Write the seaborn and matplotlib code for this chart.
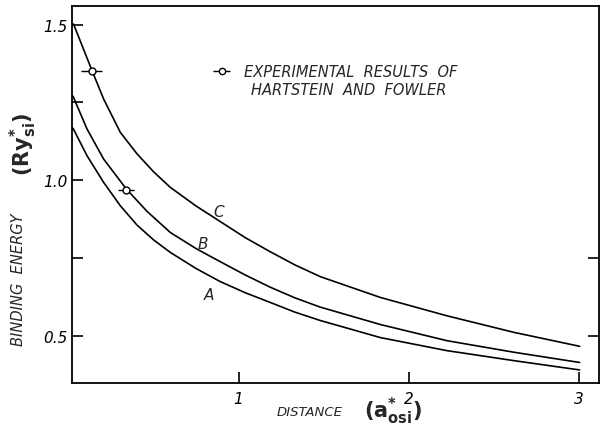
import matplotlib
matplotlib.use("Agg")
import matplotlib.pyplot as plt
import seaborn as sns
import pandas as pd

# ---- data ----
x_C = [0.029, 0.138, 0.206, 0.304, 0.402, 0.500, 0.598, 0.750, 0.892, 1.040, 1.186, 1.330, 1.480, 1.834, 2.226, 2.618, 3.006]
y_C = [1.502, 1.352, 1.261, 1.154, 1.085, 1.027, 0.977, 0.917, 0.867, 0.815, 0.770, 0.728, 0.690, 0.623, 0.564, 0.511, 0.466]
x_B = [0.026, 0.108, 0.206, 0.339, 0.461, 0.598, 0.750, 0.892, 1.040, 1.186, 1.330, 1.480, 1.834, 2.226, 2.618, 3.006]
y_B = [1.270, 1.165, 1.068, 0.972, 0.900, 0.832, 0.780, 0.738, 0.695, 0.656, 0.622, 0.592, 0.536, 0.484, 0.447, 0.414]
x_A = [0.026, 0.108, 0.206, 0.304, 0.402, 0.500, 0.598, 0.750, 0.892, 1.040, 1.186, 1.330, 1.480, 1.834, 2.226, 2.618, 3.006]
y_A = [1.167, 1.079, 0.993, 0.918, 0.856, 0.808, 0.768, 0.716, 0.674, 0.638, 0.607, 0.576, 0.549, 0.494, 0.452, 0.420, 0.390]
exp_x = [0.135, 0.338]
exp_y = [1.352, 0.968]
exp_xerr = [0.06, 0.047]
curve_names = ["A", "B", "C"]
xticks = [1, 2, 3]
yticks = [0.5, 1.0, 1.5]
yticklabels = ["0.5", "1.0", "1.5"]

df = pd.concat([
    pd.DataFrame({"x": x_A, "y": y_A, "curve": "A"}),
    pd.DataFrame({"x": x_B, "y": y_B, "curve": "B"}),
    pd.DataFrame({"x": x_C, "y": y_C, "curve": "C"}),
])

sns.set_theme(style="ticks")
plt.rcParams["font.family"] = ["DejaVu Sans"]

fig = plt.figure(figsize=(6.03, 4.27), dpi=100)
ax = fig.add_axes([72/603, 1-384/427, (599-72)/603, (384-7)/427])

sns.lineplot(data=df, x="x", y="y", units="curve", estimator=None, sort=False,
             color="black", linewidth=1.2, ax=ax, legend=False)
for ln in ax.lines:
    ln.set_solid_joinstyle("round")

ax.errorbar(exp_x, exp_y, xerr=exp_xerr, fmt="o", mfc="white", mec="black",
            ecolor="black", ms=5, mew=1.0, elinewidth=1.0, capsize=0, zorder=5)

ax.set_xlim(0.02, 3.12)
ax.set_ylim(0.348, 1.56)
ax.set_xticks(xticks)
ax.set_xticklabels([str(t) for t in xticks], fontstyle="italic", fontsize=11)
ax.set_yticks(yticks)
ax.set_yticklabels(yticklabels, fontstyle="italic", fontsize=11)
ax.set_yticks([0.75, 1.25], minor=True)
ax.tick_params(axis="both", which="both", direction="in", length=8, width=1.2,
               colors="black", right=False)
ax.tick_params(axis="x", which="both", pad=6)
ax.set_xlabel("")
ax.set_ylabel("")
for s in ax.spines.values():
    s.set_linewidth(1.3)
    s.set_color("black")
    s.set_visible(True)

# right-side ticks (only the lower ones are drawn in the reference)
axr = ax.twinx()
axr.set_ylim(ax.get_ylim())
axr.set_yticks([0.5, 0.75])
axr.set_yticklabels([])
axr.tick_params(axis="y", direction="in", length=8, width=1.2, colors="black")
for s in axr.spines.values():
    s.set_visible(False)

# curve labels
lab_pos = {"C": (0.885, 0.90), "B": (0.79, 0.797), "A": (0.825, 0.634)}
for name in curve_names:
    px, py = lab_pos[name]
    ax.text(px, py, name, fontstyle="italic", fontsize=11, ha="center", va="center")

# legend-like annotation
ax.errorbar([0.902], [1.351], xerr=[0.05], fmt="o", mfc="white",
            mec="black", ecolor="black", ms=4.5, mew=1.0, elinewidth=1.0)
ax.text(1.029, 1.349, "EXPERIMENTAL  RESULTS  OF", fontstyle="italic", fontsize=10.5,
        ha="left", va="center")
ax.text(1.645, 1.291, "HARTSTEIN  AND  FOWLER", fontstyle="italic", fontsize=10.5,
        ha="center", va="center")

# axis labels
fig.text(19/603, 1-280/427, "BINDING  ENERGY", rotation=90, fontstyle="italic",
         fontsize=10.5, ha="center", va="center")
fig.text(23/603, 1-144/427, r"$\mathbf{(Ry^{*}_{si})}$", rotation=90,
         fontsize=15, ha="center", va="center")
fig.text(310/603, 1-413/427, "DISTANCE", fontstyle="italic", fontsize=9.5,
         ha="center", va="center")
fig.text(393/603, 1-411/427, r"$\mathbf{(a^{*}_{osi})}$", fontsize=15,
         ha="center", va="center")

fig.savefig("out.png", dpi=100)
